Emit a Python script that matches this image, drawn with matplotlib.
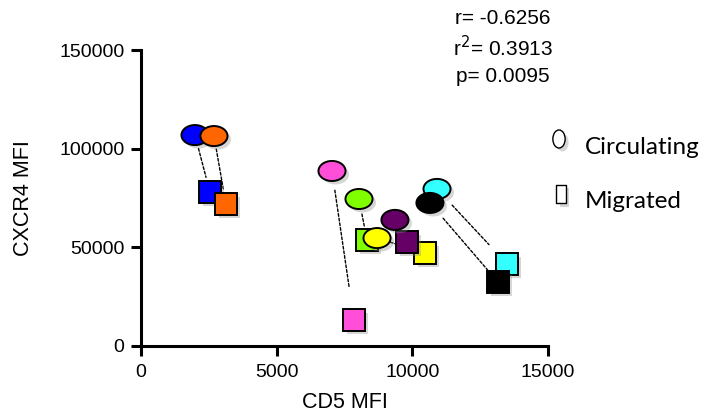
import numpy as np
import matplotlib.pyplot as plt
import matplotlib.patheffects as pe
from matplotlib.path import Path
from matplotlib.transforms import Affine2D

# one entry per donor: circulating (ellipse) vs migrated (square) cells
colors = ['#0000ff', '#ff6600', '#ff4fd8', '#80ff00',
          '#660066', '#ffff00', '#33ffff', '#000000']
circ_cd5 = [1990, 2690, 7040, 8035, 9360, 8700, 10910, 10650]
circ_cxcr4 = [106900, 106400, 88700, 74500, 63900, 54700, 79600, 72500]
mig_cd5 = [2540, 3130, 7850, 8330, 9800, 10470, 13490, 13160]
mig_cxcr4 = [78000, 72000, 13200, 53700, 52700, 47100, 41600, 32400]

stats = ['r= -0.6256', 'r$^2$= 0.3913', 'p= 0.0095']
xticks = [0, 5000, 10000, 15000]
yticks = [0, 50000, 100000, 150000]

# gap (pt) left at each end of the dashed connectors
gap_start = [10, 9.5, 14, 11, 10, 10, 16, 14.5]
gap_end = [11, 11, 24, 10, 10, 12, 19, 11.5]

plt.rcParams['font.family'] = ['Liberation Sans', 'DejaVu Sans']

wide_ellipse = Path.unit_circle().transformed(Affine2D().scale(1.35, 1.0))
tall_ellipse = Path.unit_circle().transformed(Affine2D().scale(0.68, 1.0))
tall_rect = Path([(-0.55, -1), (0.55, -1), (0.55, 1), (-0.55, 1), (-0.55, -1)],
                 [Path.MOVETO, Path.LINETO, Path.LINETO, Path.LINETO, Path.CLOSEPOLY])

shadow = [pe.SimplePatchShadow(offset=(2.5, -2.5), shadow_rgbFace='0.55', alpha=0.35),
          pe.Normal()]

fig = plt.figure(figsize=(7.11, 4.17), dpi=100)
ax = fig.add_axes([0.1983, 0.1703, 0.5724, 0.7097])

# dashed connectors from circulating to migrated
for i in range(len(colors)):
    ax.annotate('', xy=(mig_cd5[i], mig_cxcr4[i]), xytext=(circ_cd5[i], circ_cxcr4[i]),
                arrowprops=dict(arrowstyle='-', linestyle=(0, (2.0, 1.4)), lw=1.0,
                                color='black', shrinkA=gap_start[i], shrinkB=gap_end[i]),
                zorder=1)

sq_order = [0, 1, 2, 3, 5, 4, 6, 7]
for i in sq_order:
    ax.plot(mig_cd5[i], mig_cxcr4[i], marker='s', ms=15.5, mfc=colors[i],
            mec='black', mew=1.4, ls='none', zorder=3, path_effects=shadow)

for i in range(len(colors)):
    ax.plot(circ_cd5[i], circ_cxcr4[i], marker=wide_ellipse, ms=19.5, mfc=colors[i],
            mec='black', mew=1.4, ls='none', zorder=4, path_effects=shadow)

ax.set_xlim(0, 15000)
ax.set_ylim(0, 150000)
ax.set_xticks(xticks)
ax.set_yticks(yticks)
ax.tick_params(labelsize=14, width=2.2, length=7, pad=5, colors='black')
ax.tick_params(axis='x', pad=6)
for side in ['top', 'right']:
    ax.spines[side].set_visible(False)
for side in ['left', 'bottom']:
    ax.spines[side].set_linewidth(2.2)
    ax.spines[side].set_capstyle('projecting')

ax.set_xlabel('CD5 MFI', fontsize=15.5, labelpad=8)
ax.set_ylabel('CXCR4 MFI', fontsize=15.5, labelpad=18)

for k, s in enumerate(stats):
    fig.text(503 / 711, 1 - (18 + 29.5 * k) / 417, s, fontsize=15,
             ha='center', va='center')

# legend drawn by hand, to the right of the axes
fig.lines.append(plt.Line2D([559 / 711], [1 - 139 / 417], transform=fig.transFigure,
                            marker=tall_ellipse, ms=13, mfc='white', mec='black',
                            mew=1.0, ls='none', path_effects=shadow))
fig.lines.append(plt.Line2D([561 / 711], [1 - 194 / 417], transform=fig.transFigure,
                            marker=tall_rect, ms=13, mfc='white', mec='black',
                            mew=1.0, ls='none', path_effects=shadow))
fig.text(585 / 711, 1 - 147 / 417, 'Circulating', fontsize=17.5,
         family=['Lato', 'DejaVu Sans'], ha='left', va='center')
fig.text(585 / 711, 1 - 201 / 417, 'Migrated', fontsize=17.5,
         family=['Lato', 'DejaVu Sans'], ha='left', va='center')

fig.savefig('out.png', dpi=100)
